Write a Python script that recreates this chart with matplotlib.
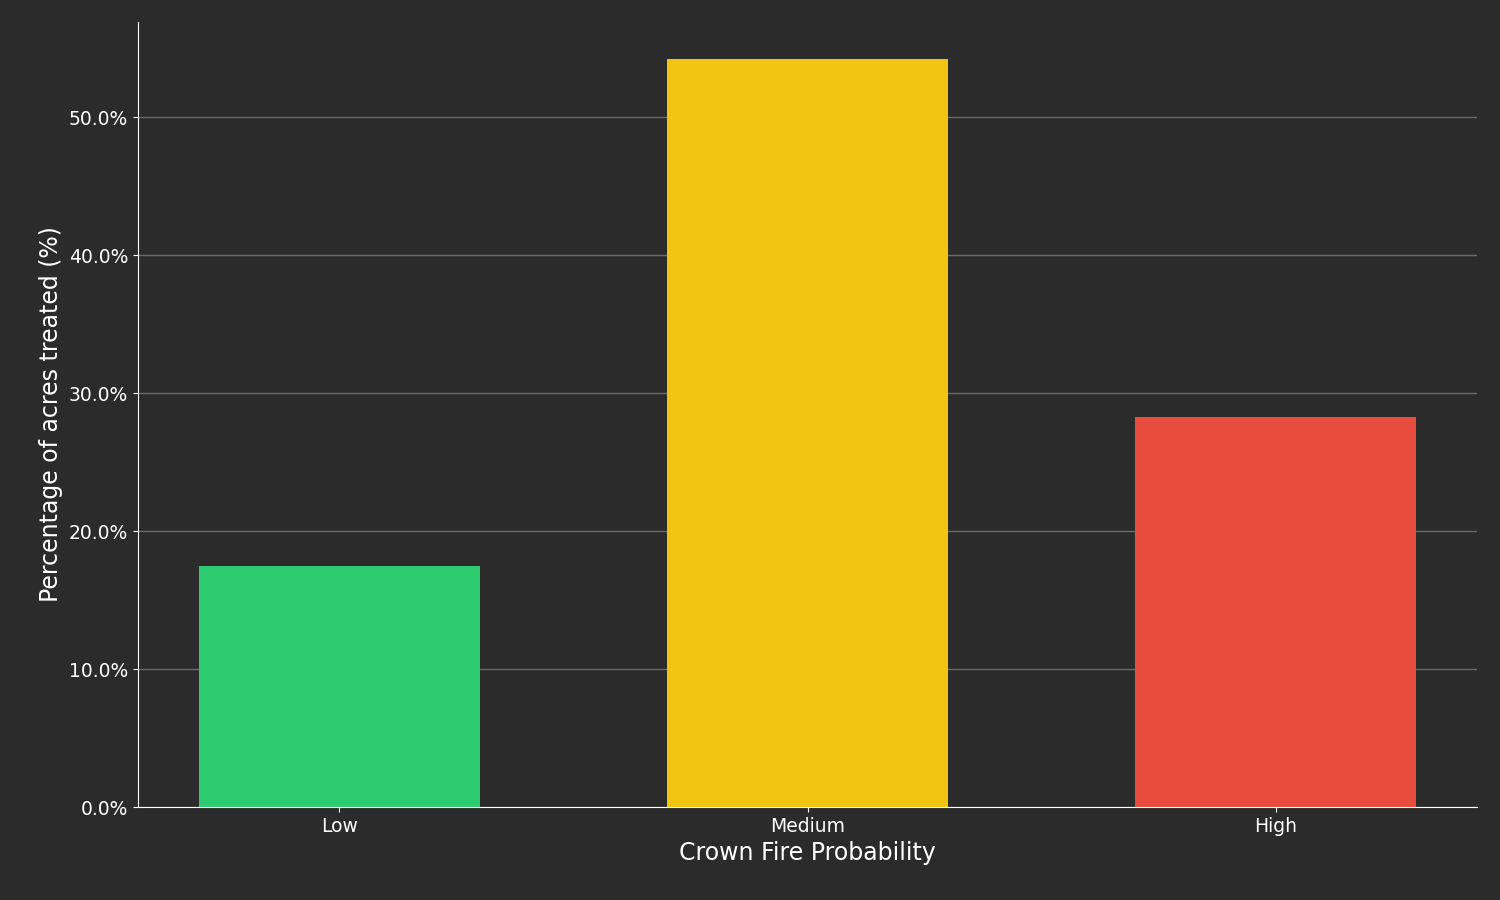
import matplotlib
matplotlib.use("Agg")
import matplotlib.pyplot as plt
from matplotlib.ticker import FuncFormatter

categories = ["Low", "Medium", "High"]
values = [17.5, 54.2, 28.3]
colors = ["#2ecc71", "#f1c40f", "#e74c3c"]

bg = "#2b2b2b"
fig = plt.figure(figsize=(15, 9), dpi=100, facecolor=bg)
ax = fig.add_axes([0.092, 0.1033, 0.8927, 0.8722], facecolor=bg)
ax.bar(range(len(categories)), values, width=0.6, color=colors, zorder=2)
ax.set_xlim(-0.43, 2.43)
ax.set_ylim(0, max(values) * 1.05)
ax.set_xticks(range(len(categories)))
ax.set_xticklabels(categories)
ax.set_yticks([0, 10, 20, 30, 40, 50])
ax.yaxis.set_major_formatter(FuncFormatter(lambda v, p: f"{v:.1f}%"))
ax.grid(axis="y", color="#6a6a6a", linewidth=1, zorder=0)
for s in ["top", "right"]:
    ax.spines[s].set_visible(False)
for s in ["left", "bottom"]:
    ax.spines[s].set_color("white")
ax.tick_params(colors="white", labelsize=13.5)
ax.set_xlabel("Crown Fire Probability", color="white", fontsize=17)
ax.set_ylabel("Percentage of acres treated (%)", color="white", fontsize=17)
fig.savefig("out.png", facecolor=bg)
